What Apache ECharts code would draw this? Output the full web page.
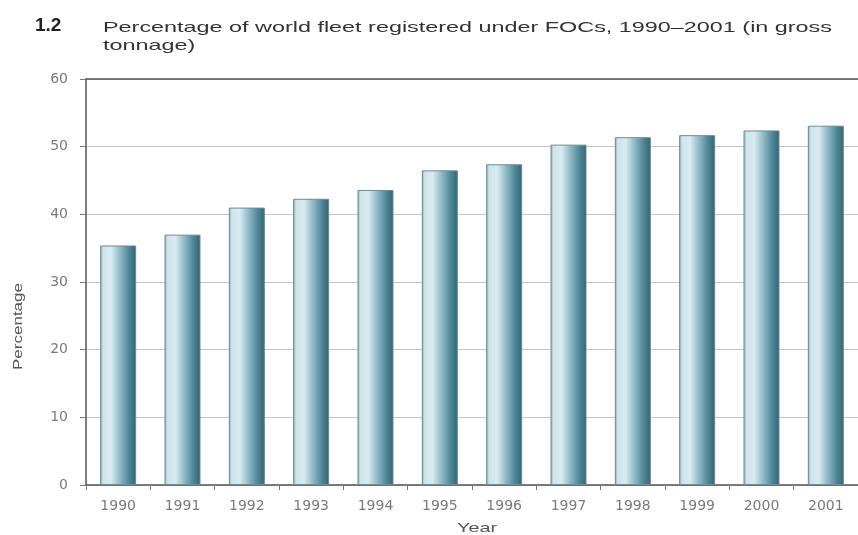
<!DOCTYPE html>
<html><head><meta charset="utf-8">
<script src="https://cdn.jsdelivr.net/npm/echarts@6/dist/echarts.min.js"></script>
<style>html,body{margin:0;padding:0;background:#fff}#c{width:858px;height:535px}</style>
</head><body><div id="c"></div>
<script>
var years = ['1990','1991','1992','1993','1994','1995','1996','1997','1998','1999','2000','2001'];
var values = [35.4, 37.0, 41.0, 42.3, 43.6, 46.5, 47.4, 50.3, 51.4, 51.7, 52.4, 53.1];
var yTicks = [0, 10, 20, 30, 40, 50, 60];
var titleLine1 = 'Percentage of world fleet registered under FOCs, 1990\u20132001 (in gross';
var titleLine2 = 'tonnage)';

var cv = document.createElement('canvas').getContext('2d');
function fitScale(text, font, target) {
  cv.font = font;
  return target / cv.measureText(text).width;
}
var tFont = '15px "Liberation Sans", Arial';
var sTitle = fitScale(titleLine1, tFont, 729);
var nFont = '13px "Liberation Sans", Arial';
var sY = fitScale('Percentage', nFont, 87);
var sX = fitScale('Year', nFont, 40);

var chart = echarts.init(document.getElementById('c'));
var barGrad = new echarts.graphic.LinearGradient(0, 0, 1, 0, [
  {offset: 0, color: '#8aa9b2'},
  {offset: 0.08, color: '#cfe3ea'},
  {offset: 0.3, color: '#d9ebf1'},
  {offset: 0.5, color: '#9dc3cf'},
  {offset: 0.8, color: '#4f8797'},
  {offset: 1, color: '#2f6676'}
]);
chart.setOption({
  animation: false,
  grid: {left: 86, top: 79, height: 406, width: 781, containLabel: false},
  graphic: [
    {type: 'text', x: 35, y: 16, style: {text: '1.2', fontSize: 19, fontWeight: 'bold', fontFamily: '"Liberation Sans", Arial', fill: '#222'}},
    {type: 'text', x: 103, y: 20, scaleX: sTitle, style: {text: titleLine1, font: tFont, fill: '#333'}},
    {type: 'text', x: 103, y: 38, scaleX: sTitle, style: {text: titleLine2, font: tFont, fill: '#333'}},
    {type: 'text', x: 457, y: 522, scaleX: sX, style: {text: 'Year', font: nFont, fill: '#555'}},
    {type: 'text', x: 12, y: 370, rotation: Math.PI / 2, scaleX: sY, style: {text: 'Percentage', font: nFont, fill: '#555', textVerticalAlign: 'top'}}
  ],
  xAxis: [{
    type: 'category', data: years, boundaryGap: true,
    axisLine: {show: true, lineStyle: {color: '#555', width: 1.5}},
    axisTick: {show: true, length: 5, lineStyle: {color: '#777'}},
    axisLabel: {color: '#7a7a7a', fontSize: 14, margin: 14, fontFamily: '"DejaVu Sans", sans-serif'}
  }, {
    type: 'category', data: years, position: 'top',
    axisLine: {show: true, lineStyle: {color: '#555', width: 1.5}},
    axisTick: {show: false}, axisLabel: {show: false}
  }],
  yAxis: {
    type: 'value', min: yTicks[0], max: yTicks[yTicks.length - 1], interval: 10,
    axisLine: {show: true, lineStyle: {color: '#555', width: 1.5}},
    axisTick: {show: true, length: 6, lineStyle: {color: '#777'}},
    axisLabel: {color: '#7a7a7a', fontSize: 14, margin: 18, fontFamily: '"DejaVu Sans", sans-serif'},
    splitLine: {show: true, lineStyle: {color: '#c4c4c4', width: 1}}
  },
  series: [{
    type: 'bar', data: values, barWidth: 36,
    itemStyle: {color: barGrad, borderColor: '#6f8a92', borderWidth: 1}
  }]
});
</script></body></html>
